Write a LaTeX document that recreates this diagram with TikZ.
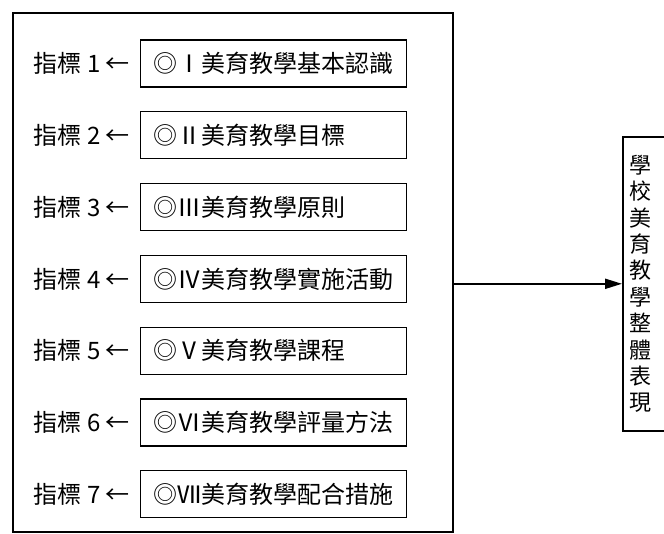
\documentclass[tikz,border=0pt]{standalone}
\usepackage{fontspec}
\setmainfont{Noto Sans CJK TC}
\usetikzlibrary{arrows.meta}

\begin{document}
\begin{tikzpicture}[x=1pt,y=-1pt,
  item/.style={draw,line width=1.3pt,anchor=west,minimum height=47pt,text width=240pt,inner xsep=13pt,align=left,font=\fontsize{24}{28}\selectfont},
  tag/.style={anchor=east,inner sep=0pt,font=\fontsize{24}{28}\selectfont}]

\clip (0,0) rectangle (664,534);
\node[draw,line width=2.4pt,anchor=north west,minimum width=440pt,minimum height=519pt,inner sep=0pt] (frame) at (12,12) {}; % outer frame

\node[item] (ind1) at (140,63.5) {◎Ⅰ美育教學基本認識};
\node[tag] (tag1) at (130,63.5) {指標 1 ←};
\node[item] (ind2) at (140,135.3) {◎Ⅱ美育教學目標};
\node[tag] (tag2) at (130,135.3) {指標 2 ←};
\node[item] (ind3) at (140,207.1) {◎Ⅲ美育教學原則};
\node[tag] (tag3) at (130,207.1) {指標 3 ←};
\node[item] (ind4) at (140,278.9) {◎Ⅳ美育教學實施活動};
\node[tag] (tag4) at (130,278.9) {指標 4 ←};
\node[item] (ind5) at (140,350.7) {◎Ⅴ美育教學課程};
\node[tag] (tag5) at (130,350.7) {指標 5 ←};
\node[item] (ind6) at (140,422.5) {◎Ⅵ美育教學評量方法};
\node[tag] (tag6) at (130,422.5) {指標 6 ←};
\node[item] (ind7) at (140,494.3) {◎Ⅶ美育教學配合措施};
\node[tag] (tag7) at (130,494.3) {指標 7 ←};

\node[draw,line width=1.6pt,anchor=north west,minimum width=80pt,minimum height=294pt,inner sep=0pt] (whole) at (622,136) {}; % result box
\node[inner sep=0pt,align=center,font=\fontsize{22}{26.4}\selectfont] (wholetext) at (640,284) {學\\校\\美\\育\\教\\學\\整\\體\\表\\現};

\draw[line width=2pt,-{Triangle[length=17pt,width=10pt]}] (frame.east |- whole.west) -- (whole.west);
\end{tikzpicture}
\end{document}
